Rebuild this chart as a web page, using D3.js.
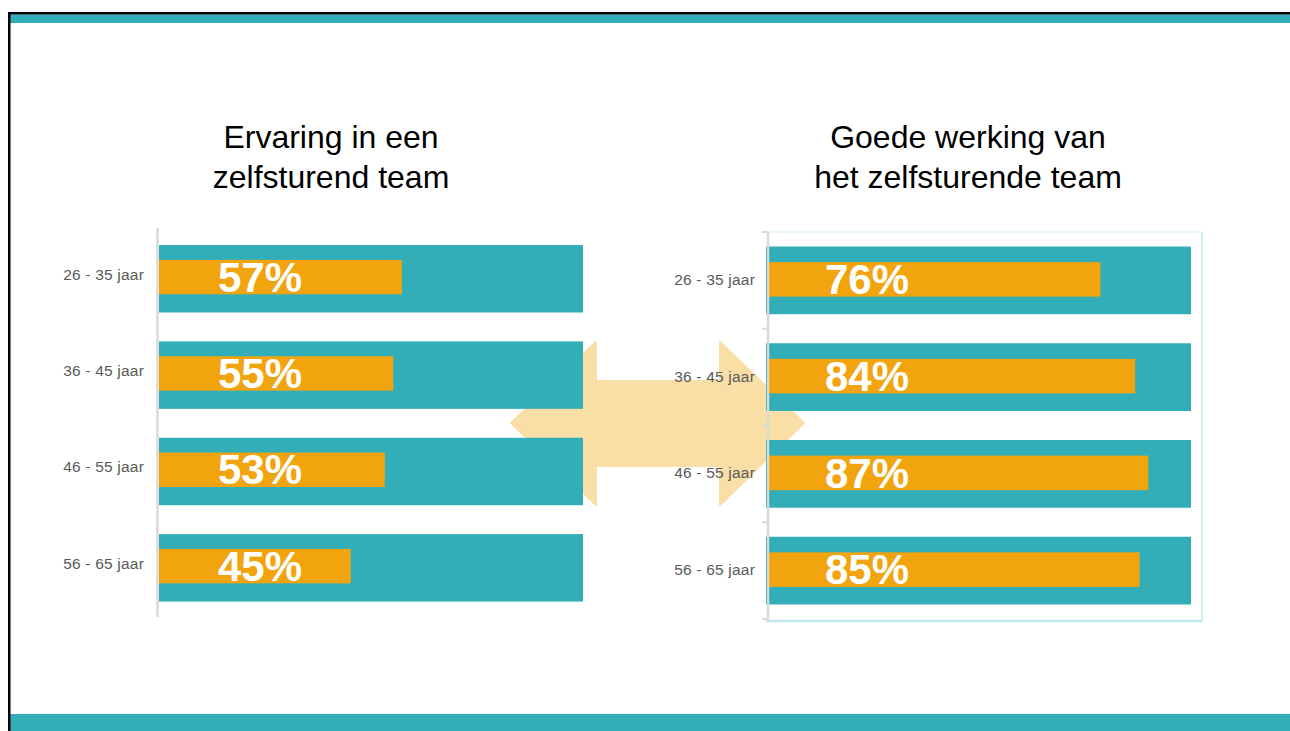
<!DOCTYPE html>
<html>
<head>
<meta charset="utf-8">
<script src="https://cdn.jsdelivr.net/npm/d3@7/dist/d3.min.js"></script>
<style>
  html, body { margin: 0; padding: 0; background: #fff; }
  svg { display: block; font-family: "Liberation Sans", Arial, sans-serif; }
</style>
</head>
<body>
<svg id="chart" width="1290" height="731"></svg>
<script>
// ---- data ----
const categories = ["26 - 35 jaar", "36 - 45 jaar", "46 - 55 jaar", "56 - 65 jaar"];
const ervaring = [57, 55, 53, 45];          // Ervaring in een zelfsturend team
const goedeWerking = [76, 84, 87, 85];      // Goede werking van het zelfsturende team
const titleLeft = ["Ervaring in een", "zelfsturend team"];
const titleRight = ["Goede werking van", "het zelfsturende team"];

const TEAL = "#32aeb9", ORANGE = "#f2a40e", ARROW = "#f9dea6";

const svg = d3.select("#chart");

// ---- page frame ----
svg.append("rect").attr("x", 8).attr("y", 14.5).attr("width", 1282).attr("height", 8.5).attr("fill", TEAL);
svg.append("rect").attr("x", 8).attr("y", 714).attr("width", 1282).attr("height", 17).attr("fill", TEAL);
svg.append("rect").attr("x", 8).attr("y", 12).attr("width", 1282).attr("height", 2.5).attr("fill", "#000");
svg.append("rect").attr("x", 8).attr("y", 12).attr("width", 2.5).attr("height", 719).attr("fill", "#000");

// ---- double arrow (background) ----
const arrowPts = [[511,423],[596,342],[596,381],[720,381],[720,342],[804,423],[720,505],[720,466],[596,466],[596,505]];
svg.append("path")
  .attr("d", d3.line()(arrowPts) + "Z")
  .attr("fill", ARROW).attr("stroke", ARROW).attr("stroke-width", 2).attr("stroke-linejoin", "round");

// ---- chart builder ----
function drawPanel(cfg) {
  const g = svg.append("g");
  const x = d3.scaleLinear().domain([0, 100]).range([cfg.x0, cfg.x100]);
  const y = d3.scaleBand().domain(categories).range(cfg.yRange).paddingInner(0.3).paddingOuter(0.15);
  const bw = y.bandwidth();

  if (cfg.frame) {
    const [fx, fy, fw, fh] = cfg.frame;
    g.append("line").attr("x1", fx).attr("x2", fx + fw).attr("y1", fy).attr("y2", fy).attr("stroke", "#e8f7f8").attr("stroke-width", 2);
    g.append("line").attr("x1", fx + fw).attr("x2", fx + fw).attr("y1", fy).attr("y2", fy + fh).attr("stroke", "#d3f0f2").attr("stroke-width", 2);
    g.append("line").attr("x1", fx).attr("x2", fx + fw).attr("y1", fy + fh).attr("y2", fy + fh).attr("stroke", "#bfe9ed").attr("stroke-width", 2.5);
  }

  // teal track
  g.selectAll(".track").data(categories).join("rect")
    .attr("x", cfg.trackX0).attr("width", cfg.trackX1 - cfg.trackX0)
    .attr("y", d => y(d)).attr("height", bw).attr("fill", TEAL);

  // orange value bar
  g.selectAll(".val").data(cfg.values).join("rect")
    .attr("x", x(0)).attr("width", d => x(d) - x(0))
    .attr("y", (d, i) => y(categories[i]) + bw * cfg.oTop).attr("height", bw * 0.51)
    .attr("fill", ORANGE);

  // axis line
  g.append("line").attr("x1", cfg.axisX).attr("x2", cfg.axisX)
    .attr("y1", cfg.axisY[0]).attr("y2", cfg.axisY[1])
    .attr("stroke", "#d9d9d9").attr("stroke-width", 2.5);
  if (cfg.ticks) {
    const bounds = categories.map(c => y(c) - y.step() * 0.15).concat([cfg.yRange[1]]);
    g.selectAll(".tk").data(bounds).join("line")
      .attr("x1", cfg.axisX - 6).attr("x2", cfg.axisX)
      .attr("y1", d => d).attr("y2", d => d)
      .attr("stroke", "#d9d9d9").attr("stroke-width", 2);
  }

  // category labels
  g.selectAll(".cat").data(categories).join("text")
    .attr("x", cfg.labelX).attr("y", d => y(d) + bw * (cfg.oTop + 0.255) + cfg.labelDy)
    .attr("dy", "0.35em").attr("text-anchor", "end")
    .attr("font-size", 15.5).attr("fill", "#595959").attr("letter-spacing", 0.2)
    .text(d => d);

  // value labels
  g.selectAll(".pct").data(cfg.values).join("text")
    .attr("x", x(0) + cfg.pctDx)
    .attr("y", (d, i) => y(categories[i]) + bw * (cfg.oTop + 0.51) - 2.5)
    .attr("font-size", 42).attr("font-weight", "bold").attr("fill", "#fff")
    .text(d => d + "%");

  // title
  const t = svg.append("text").attr("text-anchor", "middle").attr("font-size", 32).attr("fill", "#000");
  cfg.title.forEach((line, i) => {
    t.append("tspan").attr("x", cfg.titleX).attr("y", 148 + i * 39.5).text(line);
  });
}

drawPanel({
  values: ervaring, title: titleLeft, titleX: 331,
  x0: 159, x100: 585, trackX0: 159, trackX1: 583,
  yRange: [230.6, 616], oTop: 0.22,
  axisX: 157.5, axisY: [228, 617], ticks: false,
  labelX: 144, labelDy: -3, pctDx: 59
});

drawPanel({
  values: goedeWerking, title: titleRight, titleX: 968,
  x0: 769, x100: 1205, trackX0: 766, trackX1: 1191,
  yRange: [232, 619], oTop: 0.23, frame: [766, 232, 436, 389],
  axisX: 768, axisY: [232, 621], ticks: true,
  labelX: 755, labelDy: 0, pctDx: 56
});
</script>
</body>
</html>
